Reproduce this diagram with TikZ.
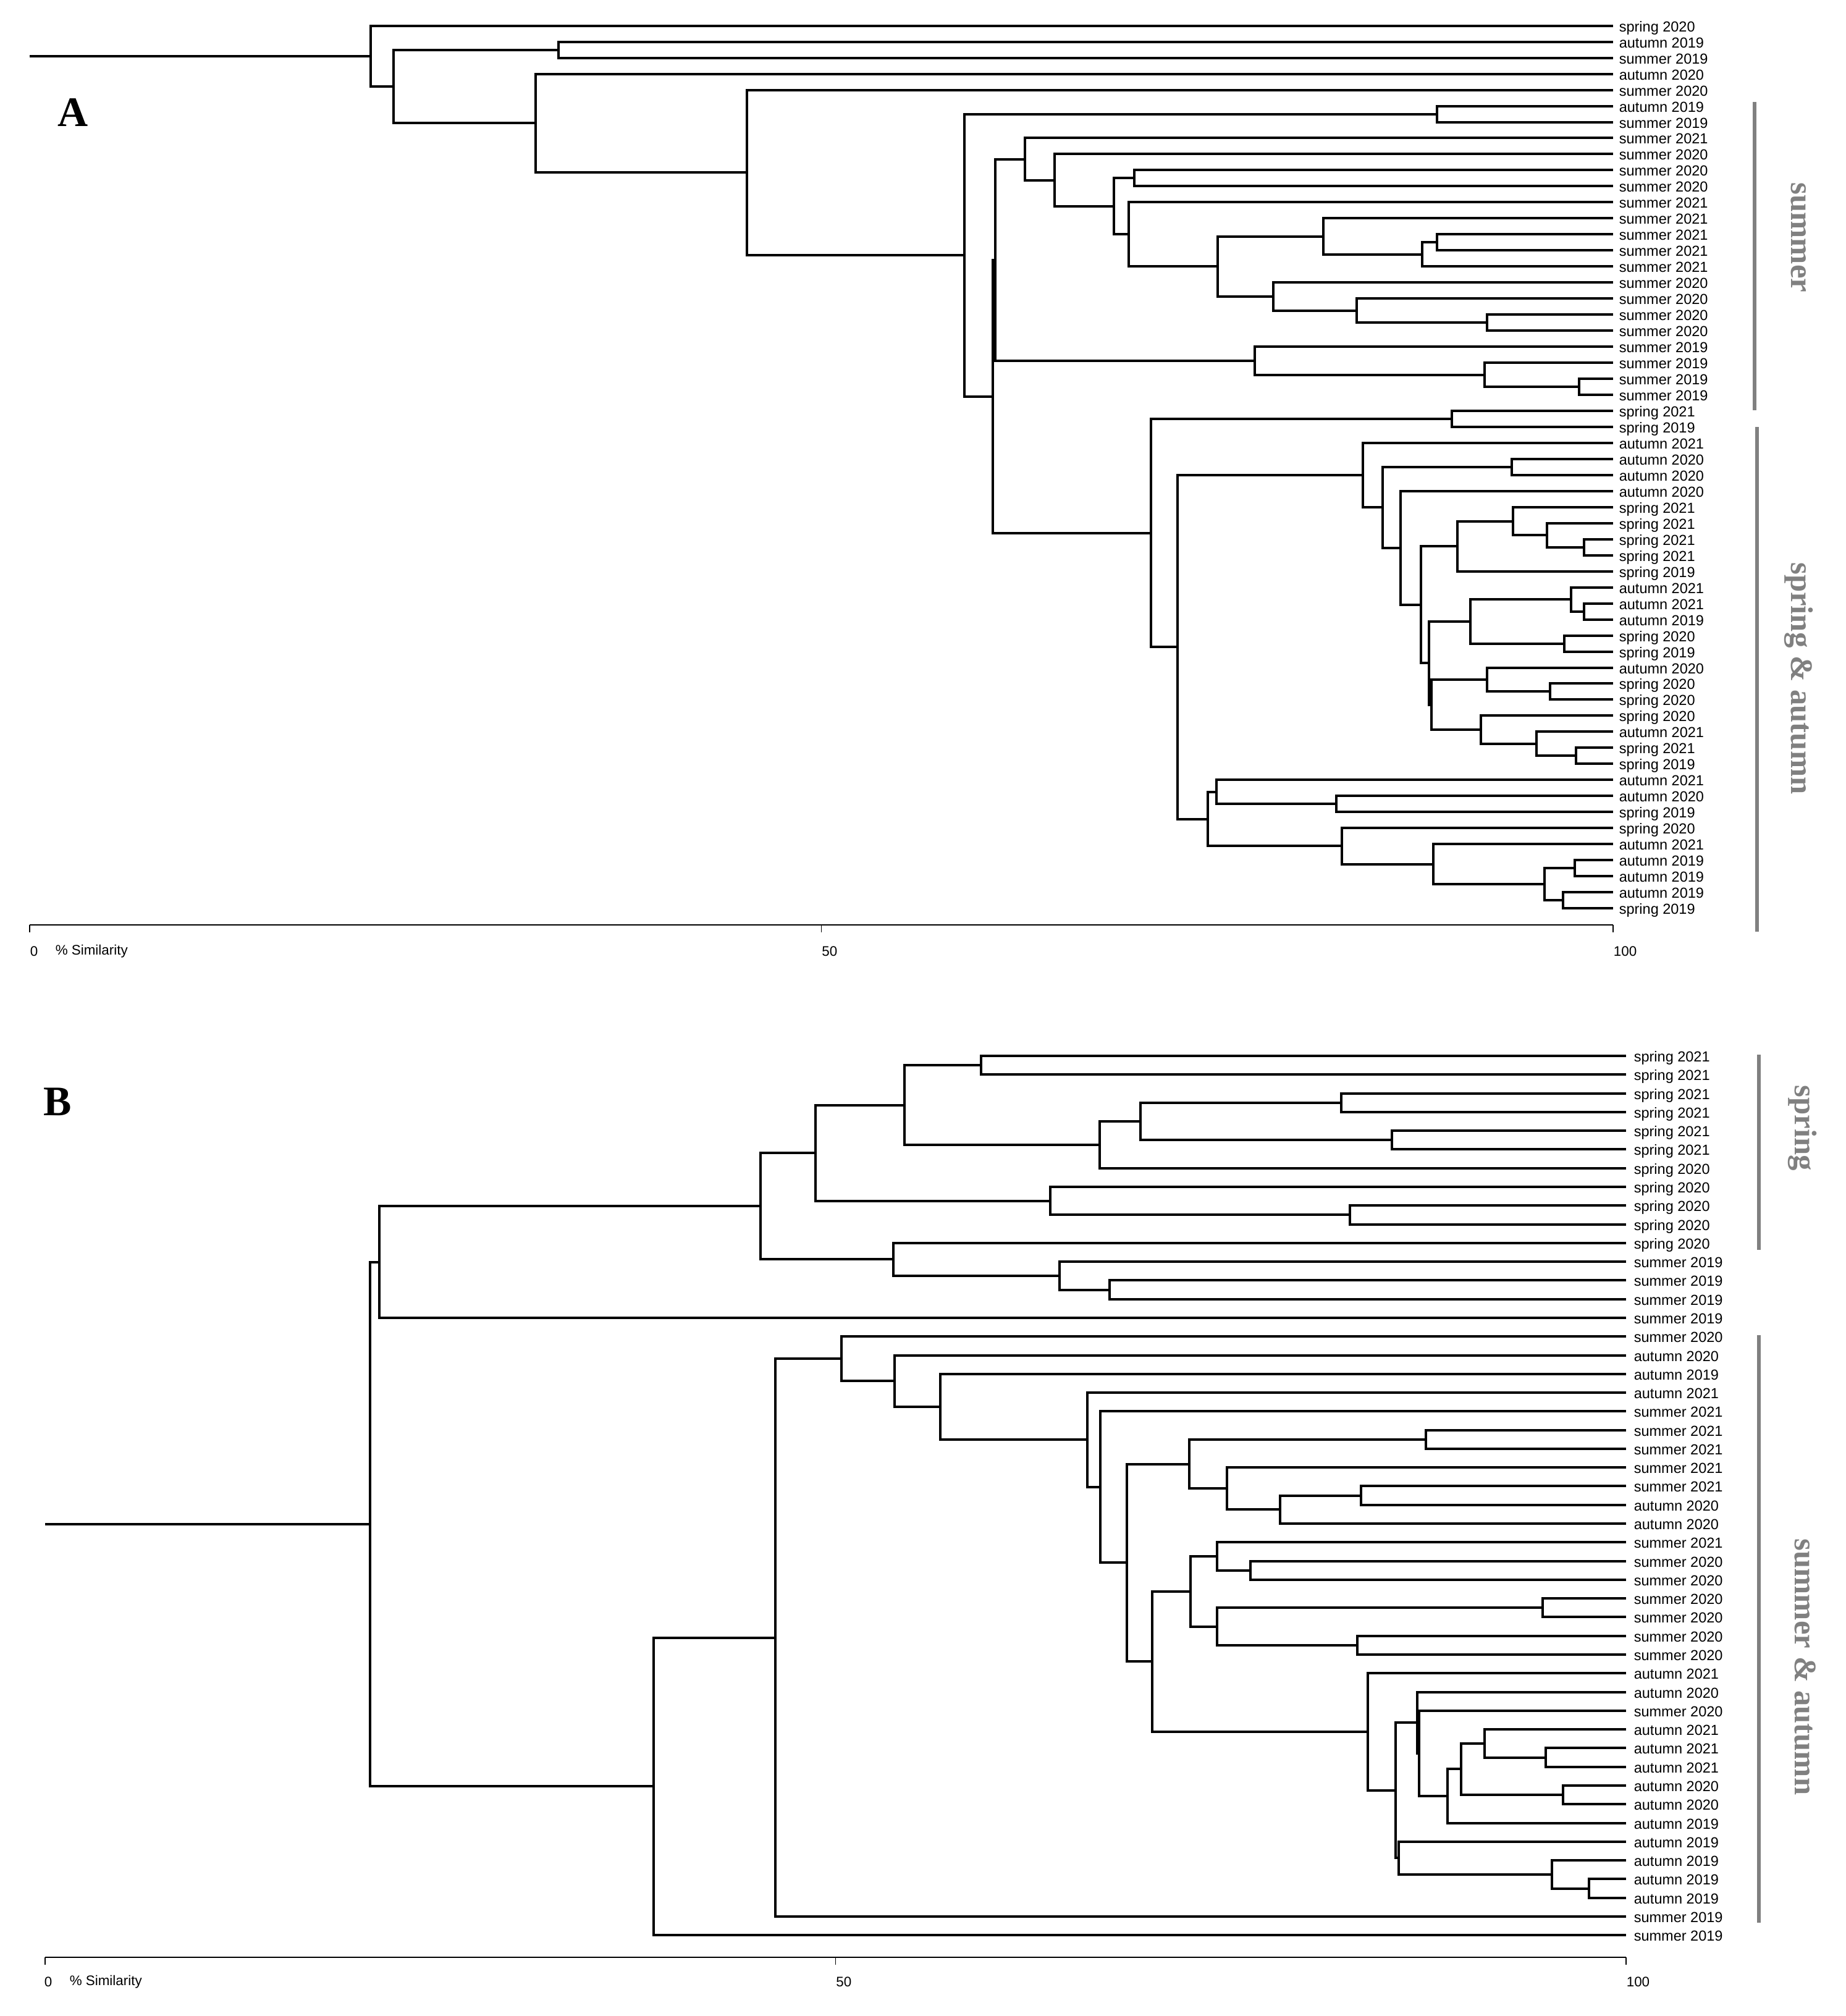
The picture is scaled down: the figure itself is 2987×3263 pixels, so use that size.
\documentclass[tikz,border=0pt]{standalone}
\usepackage{fontspec}
\setmainfont{Liberation Serif}
\newfontfamily\arialf{Liberation Sans}
\usetikzlibrary{calc}
\definecolor{grayc}{HTML}{808080}
\newcommand\jn[4]{%
  \path let \p1=(#3), \p2=(#4) in ({#2*0.25pt},{0.5*\y1+0.5*\y2}) coordinate (#1);
  \draw[br] (#1) |- (#3);
  \draw[br] (#1) |- (#4);
}
\begin{document}
\begin{tikzpicture}[x=0.25pt, y=-0.25pt,
  br/.style={line width=1.0pt, line join=miter},
  lbl/.style={font=\arialf\fontsize{5.875pt}{7pt}\selectfont, anchor=base west, inner sep=0pt},
  axl/.style={font=\arialf\fontsize{5.6pt}{7pt}\selectfont, anchor=west, inner sep=0pt},
  grp/.style={font=\bfseries\fontsize{12.7pt}{15pt}\selectfont, text=grayc, rotate=-90, anchor=base, inner sep=0pt},
  bar/.style={draw=grayc, line width=1.4pt},
  panel/.style={font=\bfseries\fontsize{17pt}{20pt}\selectfont, anchor=base west, inner sep=0pt},
  axis/.style={line width=0.5pt},
  tick/.style={line width=0.3pt}]
\useasboundingbox (0,0) rectangle (2987,3263);
\fill[white] (0,0) rectangle (2987,3263);

% ================= Panel A =================
\node[panel] (pA) at (93,205) {A};
\foreach \t [count=\i] in {spring 2020, autumn 2019, summer 2019, autumn 2020, summer 2020,
  autumn 2019, summer 2019, summer 2021, summer 2020, summer 2020, summer 2020, summer 2021,
  summer 2021, summer 2021, summer 2021, summer 2021, summer 2020, summer 2020, summer 2020,
  summer 2020, summer 2019, summer 2019, summer 2019, summer 2019, spring 2021, spring 2019,
  autumn 2021, autumn 2020, autumn 2020, autumn 2020, spring 2021, spring 2021, spring 2021,
  spring 2021, spring 2019, autumn 2021, autumn 2021, autumn 2019, spring 2020, spring 2019,
  autumn 2020, spring 2020, spring 2020, spring 2020, autumn 2021, spring 2021, spring 2019,
  autumn 2021, autumn 2020, spring 2019, spring 2020, autumn 2021, autumn 2019, autumn 2019,
  autumn 2019, spring 2019} {
  \coordinate (a\i) at (2611, {41.7+(\i-1)*25.97});
  \node[lbl] (la\i) at (2620, {51.2+(\i-1)*25.97}) {\t};
}
% summer cluster
\jn{AN22}{2556}{a23}{a24}
\jn{AN21}{2402.7}{a22}{AN22}
\jn{ANs19}{2031}{a21}{AN21}
\jn{AN20}{2406.7}{a19}{a20}
\jn{AN19}{2196}{a18}{AN20}
\jn{AN16}{2061}{a17}{AN19}
\jn{AN18}{2326}{a14}{a15}
\jn{AN17}{2301.8}{AN18}{a16}
\jn{AN15}{2141.5}{a13}{AN17}
\jn{AN14}{1971}{AN15}{AN16}
\jn{AN13}{1827}{a12}{AN14}
\jn{AN12}{1836}{a10}{a11}
\jn{AN11}{1802.7}{AN12}{AN13}
\jn{AN10}{1706.7}{a9}{AN11}
\jn{AN9}{1658.5}{a8}{AN10}
\jn{AN8a}{1611}{AN9}{ANs19}
% spring & autumn cluster
\jn{AN23}{2350}{a25}{a26}
\jn{AN28}{2447}{a28}{a29}
\jn{AN35}{2564}{a33}{a34}
\jn{AN34}{2504}{a32}{AN35}
\jn{AN33}{2449}{a31}{AN34}
\jn{AN31}{2359}{AN33}{a35}
\jn{AN39}{2564}{a37}{a38}
\jn{AN37}{2543}{a36}{AN39}
\jn{AN38}{2531.7}{a39}{a40}
\jn{AN36}{2380}{AN37}{AN38}
\jn{AN42}{2509}{a42}{a43}
\jn{AN40}{2406.7}{a41}{AN42}
\jn{AN44}{2551}{a46}{a47}
\jn{AN43}{2487}{a45}{AN44}
\jn{AN41}{2397}{a44}{AN43}
\jn{AN32b}{2316.5}{AN40}{AN41}
\jn{AN32}{2313}{AN36}{AN32b}
\jn{AN30}{2299.6}{AN31}{AN32}
\jn{AN29}{2267.4}{a30}{AN30}
\jn{AN27}{2237.5}{AN28}{AN29}
\jn{AN25}{2205.8}{a27}{AN27}
\jn{AN47}{2162.5}{a49}{a50}
\jn{AN45}{1968.75}{a48}{AN47}
\jn{AN50}{2548.7}{a53}{a54}
\jn{AN51}{2529.5}{a55}{a56}
\jn{AN49}{2500.4}{AN50}{AN51}
\jn{AN48}{2319.6}{a52}{AN49}
\jn{AN46}{2172}{a51}{AN48}
\jn{AN26}{1954.5}{AN45}{AN46}
\jn{AN24}{1906}{AN25}{AN26}
\jn{ANsa}{1862.5}{AN23}{AN24}
\jn{AN8}{1607}{AN8a}{ANsa}
\jn{AN7}{2326}{a6}{a7}
\jn{AN6}{1561}{AN7}{AN8}
\jn{AN5}{1209}{a5}{AN6}
\jn{AN4}{867.3}{a4}{AN5}
\jn{AN3}{903.8}{a2}{a3}
\jn{AN2}{636.8}{AN3}{AN4}
\jn{ANr}{600}{a1}{AN2}
\path let \p1=(ANr) in ({48*0.25pt},\y1) coordinate (ArS);
\draw[br] (ArS) -- (ANr);

% axis A
\coordinate (Ax0) at (48,1497);
\coordinate (Ax50) at (1329.5,1497);
\coordinate (Ax100) at (2611,1497);
\draw[axis] (Ax0) -- (Ax100);
\draw[tick] (Ax0) -- ++(0,12);
\draw[tick] (Ax50) -- ++(0,12);
\draw[tick] (Ax100) -- ++(0,12);
\node[axl] (At0) at (48,1540) {0};
\node[axl] (AtS) at (89,1540) {\% Similarity};
\node[axl] (At50) at (1329.5,1540) {50};
\node[axl] (At100) at (2611,1540) {100};

% groups A
\draw[bar] (2840,165) coordinate (Ag1a) -- (2840,664) coordinate (Ag1b);
\draw[bar] (2844,691) coordinate (Ag2a) -- (2844,1508) coordinate (Ag2b);
\node[grp] (AgS) at (2899,384.5) {summer};
\node[grp] (AgSA) at (2899,1098) {spring \& autumn};

% ================= Panel B =================
\node[panel] (pB) at (70,1805) {B};
\foreach \t [count=\i] in {spring 2021, spring 2021, spring 2021, spring 2021, spring 2021,
  spring 2021, spring 2020, spring 2020, spring 2020, spring 2020, spring 2020, summer 2019,
  summer 2019, summer 2019, summer 2019, summer 2020, autumn 2020, autumn 2019, autumn 2021,
  summer 2021, summer 2021, summer 2021, summer 2021, summer 2021, autumn 2020, autumn 2020,
  summer 2021, summer 2020, summer 2020, summer 2020, summer 2020, summer 2020, summer 2020,
  autumn 2021, autumn 2020, summer 2020, autumn 2021, autumn 2021, autumn 2021, autumn 2020,
  autumn 2020, autumn 2019, autumn 2019, autumn 2019, autumn 2019, autumn 2019, summer 2019,
  summer 2019} {
  \coordinate (b\i) at (2632, {1709+(\i-1)*30.28});
  \node[lbl] (lb\i) at (2644, {1718.5+(\i-1)*30.28}) {\t};
}
\jn{BN8}{1588}{b1}{b2}
\jn{BN11}{2170.8}{b3}{b4}
\jn{BN12}{2253}{b5}{b6}
\jn{BN10}{1845.5}{BN11}{BN12}
\jn{BN9}{1780.4}{BN10}{b7}
\jn{BN6}{1463.8}{BN8}{BN9}
\jn{BN13}{2185}{b9}{b10}
\jn{BN7}{1700}{b8}{BN13}
\jn{BN4}{1320.3}{BN6}{BN7}
\jn{BN15}{1795.7}{b13}{b14}
\jn{BN14}{1715.3}{b12}{BN15}
\jn{BN5}{1445.5}{b11}{BN14}
\jn{BN3}{1230.7}{BN4}{BN5}
\jn{BN1}{614.2}{BN3}{b15}
\jn{BN25}{2307.7}{b21}{b22}
\jn{BN28}{2202.5}{b24}{b25}
\jn{BN27}{2072}{BN28}{b26}
\jn{BN26}{1986.3}{b23}{BN27}
\jn{BN23}{1924.6}{BN25}{BN26}
\jn{BN33}{2024.2}{b28}{b29}
\jn{BN31}{1970.2}{b27}{BN33}
\jn{BN34}{2496.5}{b30}{b31}
\jn{BN35}{2196.8}{b32}{b33}
\jn{BN32}{1970.2}{BN34}{BN35}
\jn{BN29}{1926.7}{BN31}{BN32}
\jn{BN45}{2502.1}{b38}{b39}
\jn{BN43}{2403.2}{b37}{BN45}
\jn{BN44}{2530.2}{b40}{b41}
\jn{BN42}{2365.3}{BN43}{BN44}
\jn{BN41}{2342.8}{BN42}{b42}
\jn{BN39b}{2296.5}{b36}{BN41}
\jn{BN39}{2293.7}{b35}{BN39b}
\jn{BN40}{2571.6}{b45}{b46}
\jn{BN38}{2512}{b44}{BN40}
\jn{BN37}{2263.5}{b43}{BN38}
\jn{BN36}{2258.6}{BN39}{BN37}
\jn{BN30}{2214.4}{b34}{BN36}
\jn{BN24}{1865}{BN29}{BN30}
\jn{BN22}{1824.2}{BN23}{BN24}
\jn{BN21}{1780.7}{b20}{BN22}
\jn{BN20}{1759.6}{b19}{BN21}
\jn{BN19}{1522.4}{b18}{BN20}
\jn{BN18}{1447.8}{b17}{BN19}
\jn{BN17}{1362.4}{b16}{BN18}
\jn{BN16}{1254.6}{BN17}{b47}
\jn{BN2}{1058}{BN16}{b48}
\jn{BNr}{599.3}{BN1}{BN2}
\path let \p1=(BNr) in ({73*0.25pt},\y1) coordinate (BrS);
\draw[br] (BrS) -- (BNr);

% axis B
\coordinate (Bx0) at (73,3168);
\coordinate (Bx50) at (1352.5,3168);
\coordinate (Bx100) at (2632,3168);
\draw[axis] (Bx0) -- (Bx100);
\draw[tick] (Bx0) -- ++(0,12);
\draw[tick] (Bx50) -- ++(0,12);
\draw[tick] (Bx100) -- ++(0,12);
\node[axl] (Bt0) at (71,3208) {0};
\node[axl] (BtS) at (112,3208) {\% Similarity};
\node[axl] (Bt50) at (1352.5,3208) {50};
\node[axl] (Bt100) at (2632,3208) {100};

% groups B
\draw[bar] (2847,1707) coordinate (Bg1a) -- (2847,2023) coordinate (Bg1b);
\draw[bar] (2847,2161) coordinate (Bg2a) -- (2847,3112) coordinate (Bg2b);
\node[grp] (BgS) at (2905,1826) {spring};
\node[grp] (BgSA) at (2905,2698) {summer \& autumn};
\end{tikzpicture}
\end{document}
